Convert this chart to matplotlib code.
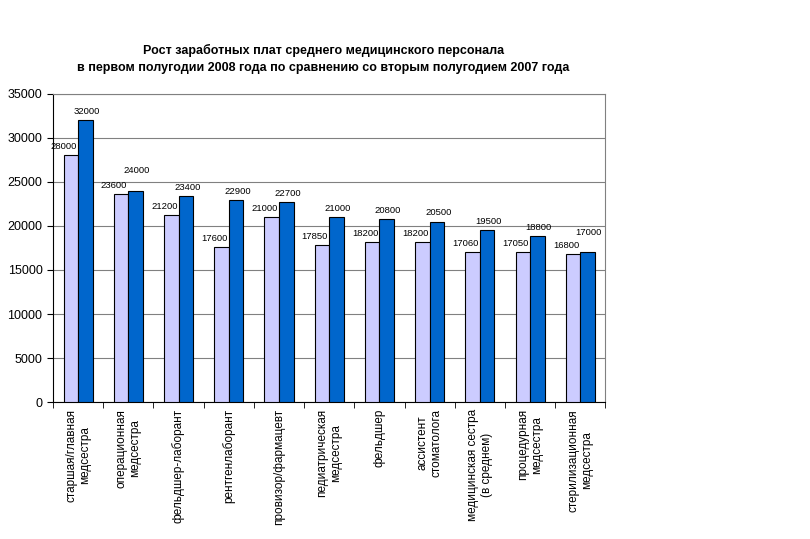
import numpy as np
import matplotlib
matplotlib.use("Agg")
import matplotlib.pyplot as plt

plt.rcParams['font.family'] = ['Liberation Sans', 'DejaVu Sans']

# dane
kategorie = ["старшая/главная\nмедсестра", "операционная\nмедсестра", "фельдшер-лаборант",
             "рентгенлаборант", "провизор/фармацевт", "педиатрическая\nмедсестра", "фельдшер",
             "ассистент\nстоматолога", "медицинская сестра\n(в среднем)", "процедурная\nмедсестра",
             "стерилизационная\nмедсестра"]
pol2_2007 = [28000, 23600, 21200, 17600, 21000, 17850, 18200, 18200, 17060, 17050, 16800]
pol1_2008 = [32000, 24000, 23400, 22900, 22700, 21000, 20800, 20500, 19500, 18800, 17000]
y_ticks = [0, 5000, 10000, 15000, 20000, 25000, 30000, 35000]

fig = plt.figure(figsize=(8.1, 5.39), dpi=100)
ax = fig.add_axes([0.0654, 0.254, 0.682, 0.572])

x = np.arange(len(kategorie))
w = 0.29
b1 = ax.bar(x - w / 2, pol2_2007, w, color='#CCCCFF', edgecolor='black', linewidth=0.8, zorder=3)
b2 = ax.bar(x + w / 2, pol1_2008, w, color='#0066CC', edgecolor='black', linewidth=0.8, zorder=3)

for r, v in zip(b1, pol2_2007):
    ax.annotate(str(v), (r.get_x() + r.get_width() / 2, v), xytext=(-5, 3),
                textcoords='offset points', ha='center', va='bottom', fontsize=6.8)
for r, v, v0 in zip(b2, pol1_2008, pol2_2007):
    # podniesienie etykiety, gdy nachodzi na sasiednia
    dy = 11 if v - v0 < 800 else 3
    ax.annotate(str(v), (r.get_x() + r.get_width() / 2, v), xytext=(1, dy),
                textcoords='offset points', ha='center', va='bottom', fontsize=6.8)

ax.set_xlim(-0.5, len(kategorie) - 0.5)
ax.set_ylim(0, 35000)
ax.set_yticks(y_ticks)
ax.tick_params(axis='y', labelsize=9, direction='out', length=4)
ax.yaxis.grid(True, color='#808080', linewidth=0.8, zorder=0)

ax.set_xticks(x)
ax.set_xticklabels(kategorie, rotation=90, fontsize=8.5, multialignment='center', va='top')
ax.tick_params(axis='x', length=0, pad=5)
ax.set_xticks(np.arange(len(kategorie) + 1) - 0.5, minor=True)
ax.tick_params(axis='x', which='minor', length=4, direction='out')

for s in ['top', 'right']:
    ax.spines[s].set_color('#808080')
for s in ['left', 'bottom']:
    ax.spines[s].set_color('black')

fig.text(0.399, 0.891, "Рост заработных плат среднего медицинского персонала\n"
         "в первом полугодии 2008 года по сравнению со вторым полугодием 2007 года",
         ha='center', va='center', fontsize=9, fontweight='bold', linespacing=1.6)

fig.savefig('out.png', dpi=100)
